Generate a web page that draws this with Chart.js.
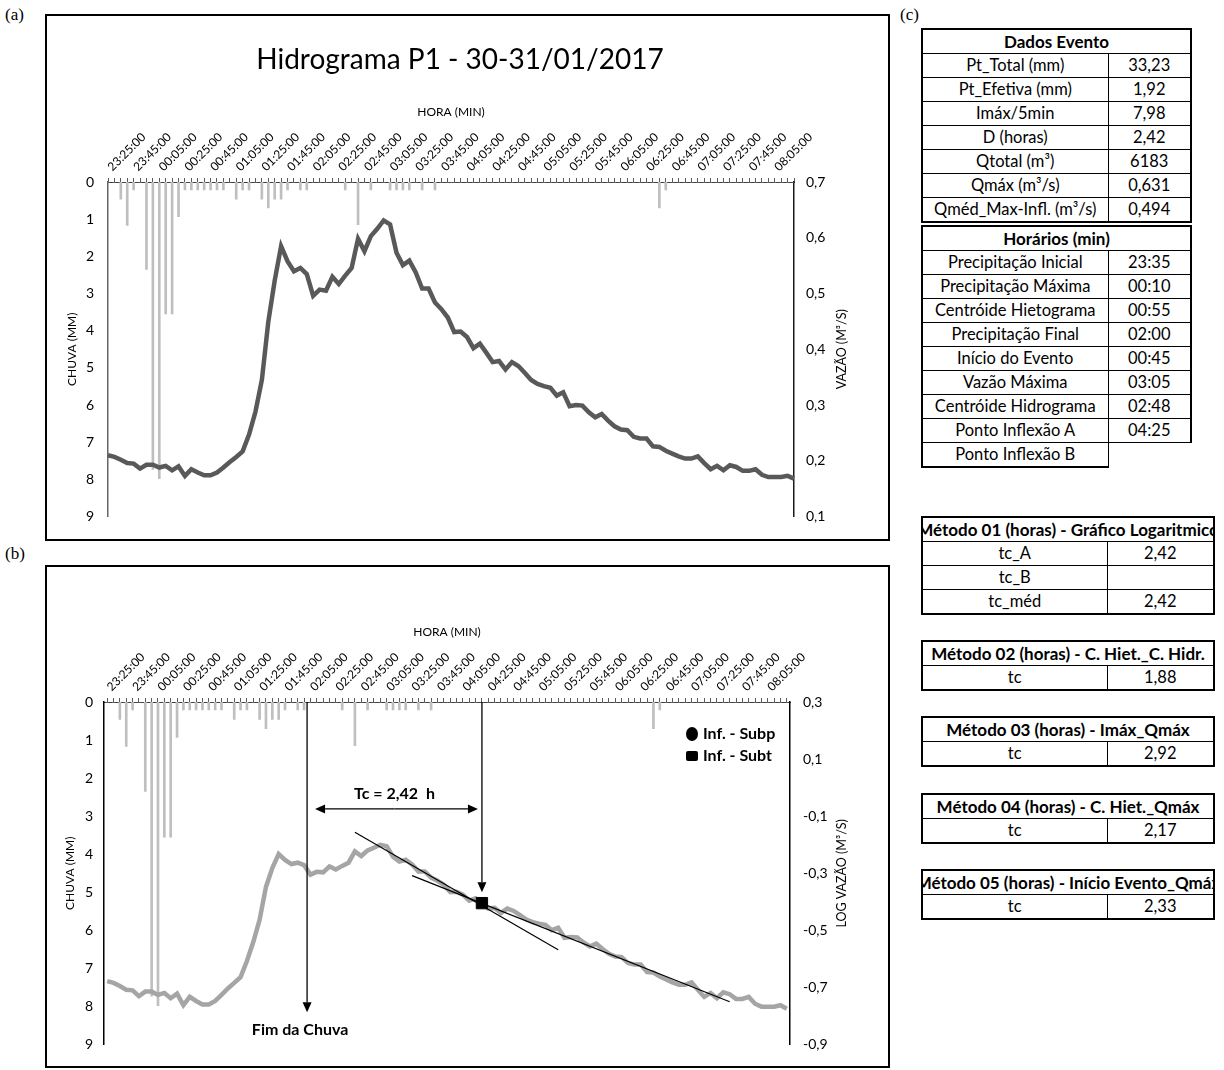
<!DOCTYPE html>
<html lang="pt-BR">
<head>
<meta charset="utf-8">
<title>Hidrograma P1 - 30-31/01/2017</title>
<script src="https://cdn.jsdelivr.net/npm/chart.js@4.4.1/dist/chart.umd.min.js"></script>
<style>
  body { margin: 0; width: 1224px; height: 1070px; position: relative; background: #fff; font-family: Lato, sans-serif; overflow: hidden; }
  .letra { position: absolute; font-family: "Liberation Serif", serif; font-size: 17px; line-height: 17px; }
  .quadro { position: absolute; left: 45px; width: 845px; box-sizing: border-box; border: 2px solid #000; }
  .quadro canvas { position: absolute; left: 0; top: 0; }
  .titulo { position: absolute; top: 25px; transform: translateX(-50%); font-size: 28px; white-space: nowrap; }
  table.t { position: absolute; left: 921px; border-collapse: collapse; border: 2px solid #000; table-layout: fixed; font-size: 16.5px; }
  table.t td { border: 1px solid #000; height: 23px; padding: 0; text-align: center; white-space: nowrap; overflow: hidden; line-height: 23px; }
  table.t td.cab { font-weight: bold; font-size: 17px; }
  .corte { position: relative; height: 23px; overflow: hidden; }
  .corte span { position: absolute; left: 50%; top: 0; transform: translateX(-50%); white-space: nowrap; }
</style>
</head>
<body>
<div class="letra" style="left:5px; top:6px;">(a)</div>
<div class="letra" style="left:5px; top:545px;">(b)</div>
<div class="letra" style="left:900px; top:6px;">(c)</div>

<div class="quadro" style="top:14px; height:527px;">
  <canvas id="graficoA" width="841" height="523"></canvas>
  <div class="titulo" style="left:413px;">Hidrograma P1 - 30-31/01/2017</div>
</div>
<div class="quadro" style="top:565px; height:503px;">
  <canvas id="graficoB" width="841" height="499"></canvas>
</div>

<div id="tabelas"></div>

<script>
// horários de 5 em 5 minutos (eixo superior)
const horarios = [
  '23:25:00','23:30:00','23:35:00','23:40:00','23:45:00','23:50:00','23:55:00',
  '00:00:00','00:05:00','00:10:00','00:15:00','00:20:00','00:25:00','00:30:00','00:35:00','00:40:00','00:45:00','00:50:00','00:55:00',
  '01:00:00','01:05:00','01:10:00','01:15:00','01:20:00','01:25:00','01:30:00','01:35:00','01:40:00','01:45:00','01:50:00','01:55:00',
  '02:00:00','02:05:00','02:10:00','02:15:00','02:20:00','02:25:00','02:30:00','02:35:00','02:40:00','02:45:00','02:50:00','02:55:00',
  '03:00:00','03:05:00','03:10:00','03:15:00','03:20:00','03:25:00','03:30:00','03:35:00','03:40:00','03:45:00','03:50:00','03:55:00',
  '04:00:00','04:05:00','04:10:00','04:15:00','04:20:00','04:25:00','04:30:00','04:35:00','04:40:00','04:45:00','04:50:00','04:55:00',
  '05:00:00','05:05:00','05:10:00','05:15:00','05:20:00','05:25:00','05:30:00','05:35:00','05:40:00','05:45:00','05:50:00','05:55:00',
  '06:00:00','06:05:00','06:10:00','06:15:00','06:20:00','06:25:00','06:30:00','06:35:00','06:40:00','06:45:00','06:50:00','06:55:00',
  '07:00:00','07:05:00','07:10:00','07:15:00','07:20:00','07:25:00','07:30:00','07:35:00','07:40:00','07:45:00','07:50:00','07:55:00',
  '08:00:00','08:05:00','08:10:00','08:15:00','08:20:00'
];

// chuva (mm) a cada 5 min
const chuva = [
  0, 0, 0.46, 1.17, 0.21, 0, 2.35, 7.73, 7.98, 3.55, 3.55, 0.93,
  0.21, 0.21, 0.21, 0.21, 0.21, 0.21, 0.21, 0, 0.46, 0.21, 0.21, 0,
  0.46, 0.70, 0.46, 0.46, 0.21, 0, 0.21, 0.21, 0, 0, 0, 0,
  0, 0.21, 0, 1.15, 0, 0.21, 0, 0, 0.21, 0.21, 0.21, 0.21,
  0, 0.21, 0, 0.21, 0, 0, 0, 0, 0, 0, 0, 0,
  0, 0, 0, 0, 0, 0, 0, 0, 0, 0, 0, 0,
  0, 0, 0, 0, 0, 0, 0, 0, 0, 0, 0, 0,
  0, 0, 0.70, 0.21, 0, 0, 0, 0, 0, 0, 0, 0,
  0, 0, 0, 0, 0, 0, 0, 0, 0, 0, 0, 0
];

// vazão (m³/s)
const vazao = [
  0.210, 0.207, 0.202, 0.196, 0.195, 0.186, 0.193, 0.193, 0.188, 0.191, 0.183, 0.190,
  0.173, 0.185, 0.179, 0.174, 0.174, 0.179, 0.188, 0.198, 0.207, 0.217, 0.247, 0.288,
  0.345, 0.449, 0.523, 0.585, 0.558, 0.540, 0.546, 0.535, 0.496, 0.507, 0.505, 0.530,
  0.517, 0.532, 0.546, 0.598, 0.576, 0.603, 0.616, 0.631, 0.624, 0.573, 0.551, 0.559,
  0.538, 0.509, 0.509, 0.484, 0.472, 0.457, 0.431, 0.432, 0.422, 0.402, 0.410, 0.394,
  0.377, 0.379, 0.364, 0.377, 0.370, 0.358, 0.345, 0.338, 0.334, 0.331, 0.317, 0.323,
  0.298, 0.300, 0.299, 0.287, 0.278, 0.284, 0.272, 0.262, 0.256, 0.255, 0.243, 0.240,
  0.240, 0.226, 0.225, 0.218, 0.213, 0.208, 0.204, 0.204, 0.208, 0.196, 0.185, 0.191,
  0.183, 0.192, 0.189, 0.182, 0.182, 0.185, 0.175, 0.171, 0.171, 0.171, 0.173, 0.168
];

// gráfico logarítmico
const logVazao = vazao.map(v => Math.log10(v));

// retas de recessão [índice, log Q]
const retaSubp = [[39, -0.156], [71, -0.568]];
const retaSubt = [[48, -0.308], [98, -0.750]];

const fimDaChuva = 31;     // 02:00
const pontoInflexao = 59;
const textoTc = 'Tc = 2,42  h';

// tabelas
const dadosEvento = [
  ['Pt_Total (mm)', '33,23'], ['Pt_Efetiva (mm)', '1,92'], ['Imáx/5min', '7,98'], ['D (horas)', '2,42'],
  ['Qtotal (m³)', '6183'], ['Qmáx (m³/s)', '0,631'], ['Qméd_Max-Infl. (m³/s)', '0,494']
];
const horariosEvento = [
  ['Precipitação Inicial', '23:35'], ['Precipitação Máxima', '00:10'], ['Centróide Hietograma', '00:55'],
  ['Precipitação Final', '02:00'], ['Início do Evento', '00:45'], ['Vazão Máxima', '03:05'],
  ['Centróide Hidrograma', '02:48'], ['Ponto Inflexão A', '04:25'], ['Ponto Inflexão B', '']
];
const metodo01 = [['tc_A', '2,42'], ['tc_B', ''], ['tc_méd', '2,42']];
const metodo02 = [['tc', '1,88']];
const metodo03 = [['tc', '2,92']];
const metodo04 = [['tc', '2,17']];
const metodo05 = [['tc', '2,33']];

function tabela(titulo, linhas, top, w1, w2, semBordaFinal) {
  let html = `<table class="t" style="top:${top}px; width:${w1 + w2}px;"><colgroup><col style="width:${w1}px"><col style="width:${w2}px"></colgroup>`;
  html += `<tr><td class="cab" colspan="2"><div class="corte"><span>${titulo}</span></div></td></tr>`;
  linhas.forEach((l, i) => {
    const ultima = semBordaFinal && i === linhas.length - 1;
    const est = ultima ? ' style="border-right-style:hidden;border-bottom-style:hidden;"' : '';
    html += `<tr><td>${l[0]}</td><td${est}>${l[1]}</td></tr>`;
  });
  return html + '</table>';
}

document.getElementById('tabelas').innerHTML =
  tabela('Dados Evento', dadosEvento, 28, 186, 83) +
  tabela('Horários (min)', horariosEvento, 225, 186, 83, true) +
  tabela('Método 01 (horas) - Gráfico Logaritmico', metodo01, 516, 185, 107) +
  tabela('Método 02 (horas) - C. Hiet._C. Hidr.', metodo02, 640, 185, 107) +
  tabela('Método 03 (horas) - Imáx_Qmáx', metodo03, 716, 185, 107) +
  tabela('Método 04 (horas) - C. Hiet._Qmáx', metodo04, 793, 185, 107) +
  tabela('Método 05 (horas) - Início Evento_Qmáx', metodo05, 869, 185, 107);

// título do eixo direito lido de baixo para cima
const tituloDireita = {
  id: 'tituloDireita',
  afterDraw(chart, args, opts) {
    const {ctx, chartArea} = chart;
    ctx.save();
    ctx.translate(chartArea.right + opts.offset, (chartArea.top + chartArea.bottom) / 2);
    ctx.rotate(-Math.PI / 2);
    ctx.font = '12.5px Lato';
    ctx.fillStyle = '#000';
    ctx.textAlign = 'center';
    ctx.textBaseline = 'middle';
    ctx.fillText(opts.text, 0, 0);
    ctx.restore();
  }
};
Chart.register(tituloDireita);

function seta(ctx, x1, y1, x2, y2) {
  const a = Math.atan2(y2 - y1, x2 - x1), c = 10, l = 4.5;
  const bx = x2 - c * Math.cos(a), by = y2 - c * Math.sin(a);
  ctx.beginPath(); ctx.moveTo(x1, y1); ctx.lineTo(bx, by); ctx.stroke();
  ctx.beginPath();
  ctx.moveTo(x2, y2);
  ctx.lineTo(bx + l * Math.sin(a), by - l * Math.cos(a));
  ctx.lineTo(bx - l * Math.sin(a), by + l * Math.cos(a));
  ctx.closePath(); ctx.fill();
}

// setas, textos e legenda do gráfico (b)
const anotacoes = {
  id: 'anotacoes',
  afterDatasetsDraw(chart) {
    const {ctx, chartArea, scales} = chart;
    const x = scales.x, yC = scales.yChuva, yL = scales.yLog;
    ctx.save();
    ctx.strokeStyle = '#000'; ctx.fillStyle = '#000'; ctx.lineWidth = 1.3;

    const xf = x.getPixelForValue(fimDaChuva) + 3;
    seta(ctx, xf, chartArea.top, xf, yC.getPixelForValue(8.15));
    const xi = x.getPixelForValue(pontoInflexao);
    seta(ctx, xi, chartArea.top, xi, yL.getPixelForValue(logVazao[pontoInflexao]) - 11);

    const yt = yC.getPixelForValue(2.81);
    const xm = (xf + xi) / 2;
    seta(ctx, xm, yt, xf + 8, yt);
    seta(ctx, xm, yt, xi - 4, yt);

    ctx.font = 'bold 16px Lato';
    ctx.textAlign = 'center'; ctx.textBaseline = 'middle';
    ctx.fillText(textoTc, xm, yt - 15);
    ctx.fillText('Fim da Chuva', xf - 7, yC.getPixelForValue(8.6));

    // legenda
    const lx = chartArea.right - 98, ly = chartArea.top + 32;
    ctx.beginPath(); ctx.ellipse(lx, ly, 6, 7, 0, 0, Math.PI * 2); ctx.fill();
    ctx.beginPath(); ctx.roundRect(lx - 6, ly + 17, 12, 10, 2); ctx.fill();
    ctx.textAlign = 'left';
    const ds = chart.data.datasets;
    ctx.fillText(ds.find(d => d.id === 'subp').label, lx + 11, ly);
    ctx.fillText(ds.find(d => d.id === 'subt').label, lx + 11, ly + 22);
    ctx.restore();
  }
};

const fonteEixo = {family: 'Lato', size: 14};
const fonteHora = {family: 'Lato', size: 12};
const fonteTitulo = {family: 'Lato', size: 12};
const virgula = v => v.toFixed(1).replace('.', ',');

function eixoHora(altura, padTitulo, offset) {
  return {
    position: 'top', offset: offset,
    grid: {offset: false, drawOnChartArea: false, tickLength: 4, color: '#595959'},
    border: {color: '#404040', width: 1},
    ticks: {
      autoSkip: false, minRotation: 45, maxRotation: 45, padding: 4, labelOffset: 12, font: fonteHora, color: '#000',
      callback(v, i) { return i % 4 === 0 ? this.getLabelForValue(v) : ''; }
    },
    title: {display: true, text: 'HORA (MIN)', font: fonteTitulo, color: '#000', padding: {top: padTitulo, bottom: 0}},
    afterFit(s) { s.height = altura; }
  };
}

function eixoChuva(largura, padTitulo, pad, cor) {
  return {
    position: 'left', reverse: true, min: 0, max: 9,
    grid: {display: false, drawTicks: false},
    border: {color: cor, width: 1.5},
    ticks: {stepSize: 1, padding: pad, font: fonteEixo, color: '#000'},
    title: {display: true, text: 'CHUVA (MM)', font: fonteTitulo, color: '#000', padding: padTitulo},
    afterFit(s) { s.width = largura; }
  };
}

// (a) hidrograma
new Chart(document.getElementById('graficoA'), {
  data: {
    labels: horarios,
    datasets: [
      {type: 'line', label: 'Vazão', data: vazao, yAxisID: 'yVazao', borderColor: '#595959', borderWidth: 4.5, pointRadius: 0, tension: 0},
      {type: 'bar', label: 'Chuva', data: chuva, yAxisID: 'yChuva', backgroundColor: '#bfbfbf', barThickness: 2}
    ]
  },
  options: {
    responsive: false, animation: false,
    layout: {padding: {bottom: 20}},
    plugins: {legend: {display: false}, tooltip: {enabled: false}, tituloDireita: {text: 'VAZÃO (M³/S)', offset: 48}},
    scales: {
      x: eixoHora(166, 89, false),
      yChuva: eixoChuva(61, 18, 14, '#666666'),
      yVazao: {
        position: 'right', min: 0.1, max: 0.7,
        grid: {display: false, drawTicks: false},
        border: {color: '#1a1a1a', width: 1.5},
        ticks: {stepSize: 0.1, padding: 12, font: fonteEixo, color: '#000', callback: virgula},
        afterFit(s) { s.width = 94; }
      }
    }
  }
});

// (b) logaritmo da vazão
function reta(pontos) {
  const d = horarios.map(() => null);
  pontos.forEach(p => { d[p[0]] = p[1]; });
  return d;
}
const marcaInflexao = horarios.map((h, i) => i === pontoInflexao ? logVazao[i] : null);

new Chart(document.getElementById('graficoB'), {
  data: {
    labels: horarios,
    datasets: [
      {type: 'line', id: 'subt', label: 'Inf. - Subt', data: marcaInflexao, yAxisID: 'yLog', showLine: false, pointStyle: 'rect', pointRadius: 8, pointBackgroundColor: '#000', pointBorderColor: '#000'},
      {type: 'line', id: 'subp', label: 'Inf. - Subp', data: horarios.map(() => null), yAxisID: 'yLog', showLine: false, pointStyle: 'circle', pointRadius: 6},
      {type: 'line', label: 'Reta A', data: reta(retaSubp), yAxisID: 'yLog', spanGaps: true, borderColor: '#000', borderWidth: 1.2, pointRadius: 0},
      {type: 'line', label: 'Reta B', data: reta(retaSubt), yAxisID: 'yLog', spanGaps: true, borderColor: '#000', borderWidth: 1.2, pointRadius: 0},
      {type: 'line', label: 'Log Vazão', data: logVazao, yAxisID: 'yLog', borderColor: '#a5a5a5', borderWidth: 4.5, pointRadius: 0, tension: 0},
      {type: 'bar', label: 'Chuva', data: chuva, yAxisID: 'yChuva', backgroundColor: '#bfbfbf', barThickness: 2}
    ]
  },
  options: {
    responsive: false, animation: false,
    layout: {padding: {bottom: 13}},
    plugins: {legend: {display: false}, tooltip: {enabled: false}, tituloDireita: {text: 'LOG VAZÃO (M³/S)', offset: 52}},
    scales: {
      x: eixoHora(135, 58, true),
      yChuva: eixoChuva(57, 16, 11, '#000'),
      yLog: {
        position: 'right', min: -0.9, max: 0.3,
        grid: {display: false, drawTicks: false},
        border: {color: '#000', width: 1.5},
        ticks: {stepSize: 0.2, padding: 13, font: fonteEixo, color: '#000', callback: virgula},
        afterFit(s) { s.width = 98; }
      }
    }
  },
  plugins: [anotacoes]
});
</script>
</body>
</html>
